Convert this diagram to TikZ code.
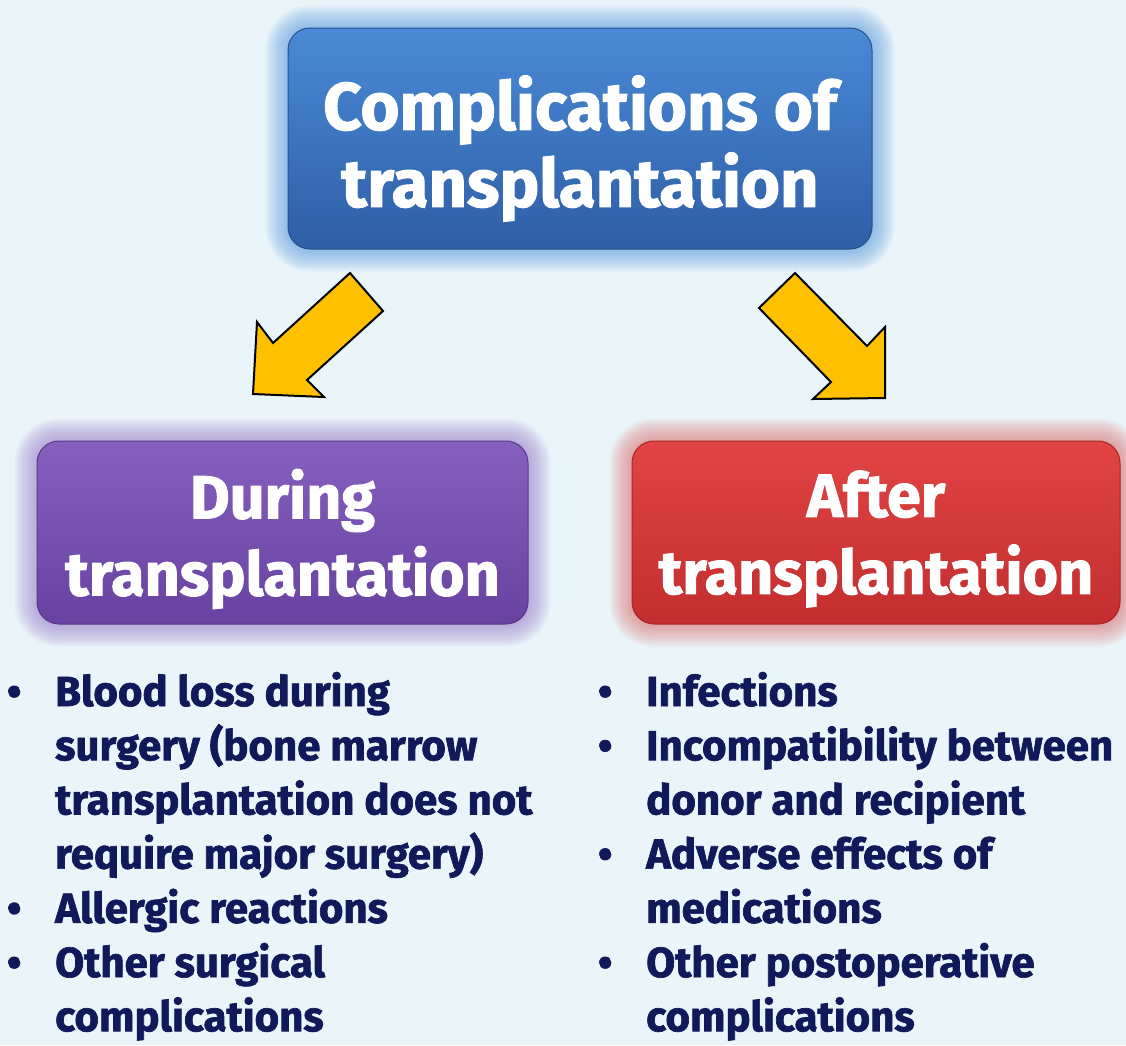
\documentclass[tikz,border=0pt]{standalone}
\usepackage{fontspec}
\usetikzlibrary{backgrounds}
\setmainfont{Fira Sans}[UprightFont=* Bold, FakeBold=1.6]
\definecolor{bgcol}{HTML}{EAF5F9}
\definecolor{navy}{HTML}{101A5A}
\definecolor{bluetop}{HTML}{4A8AD6}
\definecolor{bluebot}{HTML}{2E5EA6}
\definecolor{blueglow}{HTML}{5A9AE0}
\definecolor{purtop}{HTML}{8660BE}
\definecolor{purbot}{HTML}{6842A0}
\definecolor{purglow}{HTML}{9A7CCB}
\definecolor{redtop}{HTML}{E24444}
\definecolor{redbot}{HTML}{C22E2E}
\definecolor{redglow}{HTML}{E07070}
\definecolor{arrowfill}{HTML}{FFC000}
\newcommand{\bul}{\makebox[55pt][l]{\makebox[28pt]{•}}}
\begin{document}
\begin{tikzpicture}[x=1pt,y=-1pt,
  boxshape/.style={rectangle, rounded corners=22pt, inner sep=0pt, line width=1pt},
  titletext/.style={text=white, align=center, inner sep=0pt, font=\fontsize{#1}{77}\selectfont},
  listtext/.style={text=navy, inner sep=0pt, anchor=base west, font=\fontsize{42}{54.2}\selectfont},
  blockarrow/.style={fill=arrowfill, draw=black, line width=2pt, line join=miter}]
\useasboundingbox (0,0) rectangle (1126,1045);

% boxes
\node[boxshape, top color=bluetop, bottom color=bluebot, draw=bluebot!85!black,
      minimum width=584pt, minimum height=221pt] (top) at (580,138.5) {};
\node[boxshape, top color=purtop, bottom color=purbot, draw=purbot!85!black,
      minimum width=491pt, minimum height=183pt] (during) at (282.5,532.5) {};
\node[boxshape, top color=redtop, bottom color=redbot, draw=redbot!85!black,
      minimum width=488pt, minimum height=183pt] (after) at (876,532.5) {};

% titles
\node[titletext=67] (toptext) at (580,148.5) {Complications of\\transplantation};
\node[titletext=61] (duringtext) at (282.5,539) {During\\transplantation};
\node[titletext=61] (aftertext) at (876,539) {After\\transplantation};

% block arrows
\draw[blockarrow] (350,273) -- (383,311) -- (307,380) -- (324,397) -- (253,394) -- (257,322) -- (273,343) -- cycle;
\draw[blockarrow] (795,273) -- (759,308) -- (831,382) -- (813,399) -- (885,398) -- (885,327) -- (867,346) -- cycle;

% lists
\node[listtext] (leftlist) at (0,706) {\begin{tabular}[t]{@{}l@{}l@{}}
\bul & Blood loss during\\
     & surgery (bone marrow\\
     & transplantation does not\\
     & require major surgery)\\
\bul & Allergic reactions\\
\bul & Other surgical\\
     & complications
\end{tabular}};
\node[listtext] (rightlist) at (591,706) {\begin{tabular}[t]{@{}l@{}l@{}}
\bul & Infections\\
\bul & Incompatibility between\\
     & donor and recipient\\
\bul & Adverse effects of\\
     & medications\\
\bul & Other postoperative\\
     & complications
\end{tabular}};

% background and glows
\begin{scope}[on background layer]
\fill[bgcol] (0,0) rectangle (1126,1045);
\foreach \n/\c in {top/blueglow, during/purglow, after/redglow}{
  \foreach \g in {2,4,...,22}{
    \pgfmathsetmacro{\r}{22+\g}
    \fill[\c, opacity=0.07, rounded corners=\r pt]
      ([shift={(-\g,-\g)}]\n.north west) rectangle ([shift={(\g,\g)}]\n.south east);
  }
}
\end{scope}
\end{tikzpicture}
\end{document}
